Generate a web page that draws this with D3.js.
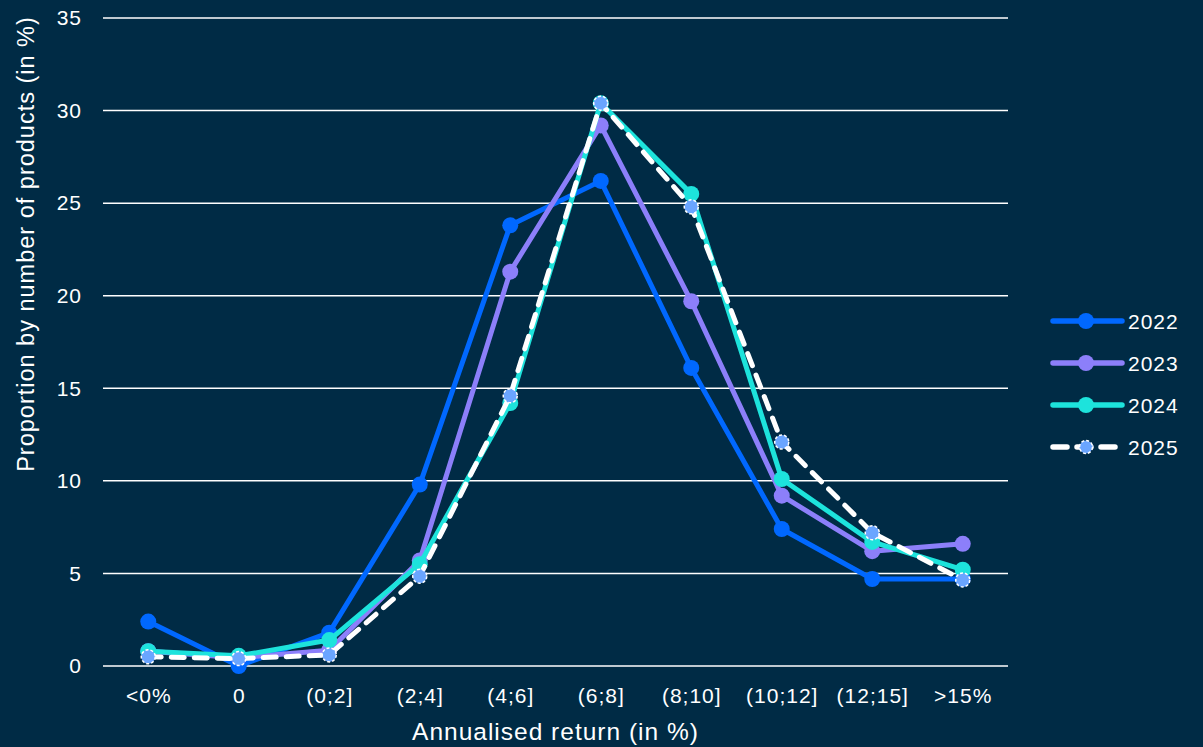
<!DOCTYPE html>
<html>
<head>
<meta charset="utf-8">
<script src="https://cdn.jsdelivr.net/npm/d3@7"></script>
<style>
  body { margin: 0; background: #002b45; }
  svg text { font-family: "Liberation Sans", Arial, sans-serif; fill: #ffffff; letter-spacing: 1px; }
</style>
</head>
<body>
<div id="chart"></div>
<script>
const categories = ["<0%", "0", "(0;2]", "(2;4]", "(4;6]", "(6;8]", "(8;10]", "(10;12]", "(12;15]", ">15%"];
const yTicks = [0, 5, 10, 15, 20, 25, 30, 35];
const years = ["2022", "2023", "2024", "2025"];
const values2022 = [2.4, 0.0, 1.8, 9.8, 23.8, 26.2, 16.1, 7.4, 4.7, 4.7];
const values2023 = [0.8, 0.45, 0.85, 5.7, 21.3, 29.2, 19.7, 9.2, 6.2, 6.6];
const values2024 = [0.8, 0.55, 1.4, 5.5, 14.2, 30.4, 25.5, 10.1, 6.7, 5.2];
const values2025 = [0.5, 0.4, 0.6, 4.85, 14.6, 30.4, 24.8, 12.1, 7.2, 4.65];

const series = [
  { name: years[0], values: values2022, color: "#0068ff", dashed: false, marker: "#0068ff" },
  { name: years[1], values: values2023, color: "#8c7ffa", dashed: false, marker: "#8c7ffa" },
  { name: years[2], values: values2024, color: "#1de3dc", dashed: false, marker: "#1de3dc" },
  { name: years[3], values: values2025, color: "#ffffff", dashed: true, marker: "#6aa5ff" }
];

const W = 1203, H = 747;
const margin = { top: 18, right: 195, bottom: 81, left: 103 };
const width = W - margin.left - margin.right,
      height = H - margin.top - margin.bottom;

const svg = d3.select("#chart")
  .append("svg")
  .attr("width", W)
  .attr("height", H)
  .style("background", "#002b45");

const g = svg.append("g")
  .attr("transform", "translate(" + margin.left + "," + margin.top + ")");

const x = d3.scalePoint()
  .domain(categories)
  .range([0, width])
  .padding(0.5);

const y = d3.scaleLinear()
  .domain([0, 35])
  .range([height, 0]);

// gridlines
g.selectAll(".grid")
  .data(yTicks)
  .enter()
  .append("line")
  .attr("x1", 0)
  .attr("x2", width)
  .attr("y1", d => y(d))
  .attr("y2", d => y(d))
  .attr("stroke", "#ffffff")
  .attr("stroke-width", 1.5);

// y axis
const yAxis = g.append("g")
  .call(d3.axisLeft(y).tickValues(yTicks).tickSize(0).tickPadding(21));
yAxis.select(".domain").remove();
yAxis.selectAll("text")
  .style("font-size", "21px")
  .attr("fill", "#ffffff");

// x axis
const xAxis = g.append("g")
  .attr("transform", "translate(0," + height + ")")
  .call(d3.axisBottom(x).tickSize(0).tickPadding(22));
xAxis.select(".domain").remove();
xAxis.selectAll("text")
  .style("font-size", "21px")
  .attr("fill", "#ffffff");

// axis titles
svg.append("text")
  .attr("x", margin.left + width / 2)
  .attr("y", 740)
  .style("text-anchor", "middle")
  .style("font-size", "24.5px")
  .text("Annualised return (in %)");

svg.append("text")
  .attr("transform", "rotate(-90)")
  .attr("x", -244)
  .attr("y", 34)
  .style("text-anchor", "middle")
  .style("font-size", "23.5px")
  .text("Proportion by number of products (in %)");

const line = d3.line()
  .x((d, i) => x(categories[i]))
  .y(d => y(d));

series.forEach(s => {
  g.append("path")
    .datum(s.values)
    .attr("fill", "none")
    .attr("stroke", s.color)
    .attr("stroke-width", 5)
    .attr("stroke-linecap", "round")
    .attr("stroke-linejoin", "round")
    .attr("stroke-dasharray", s.dashed ? "13,10" : null)
    .attr("d", line);

  g.selectAll(null)
    .data(s.values)
    .enter()
    .append("circle")
    .attr("cx", (d, i) => x(categories[i]))
    .attr("cy", d => y(d))
    .attr("r", s.dashed ? 7 : 8)
    .attr("fill", s.marker)
    .attr("stroke", s.dashed ? "#ffffff" : "none")
    .attr("stroke-width", 1.5)
    .attr("stroke-dasharray", s.dashed ? "3,2" : null);
});

// legend
const legend = svg.append("g")
  .attr("transform", "translate(1050,321)");

series.forEach((s, i) => {
  const row = legend.append("g").attr("transform", "translate(0," + (i * 42) + ")");
  row.append("line")
    .attr("x1", 3).attr("x2", 72)
    .attr("y1", 0).attr("y2", 0)
    .attr("stroke", s.color)
    .attr("stroke-width", 5.5)
    .attr("stroke-linecap", "round")
    .attr("stroke-dasharray", s.dashed ? "14,10" : null);
  row.append("circle")
    .attr("cx", 36).attr("cy", 0)
    .attr("r", s.dashed ? 6.5 : 8)
    .attr("fill", s.marker)
    .attr("stroke", s.dashed ? "#ffffff" : "none")
    .attr("stroke-width", 1.5)
    .attr("stroke-dasharray", s.dashed ? "3,2" : null);
  row.append("text")
    .attr("x", 78)
    .attr("y", 8)
    .style("font-size", "21px")
    .text(s.name);
});
</script>
</body>
</html>
